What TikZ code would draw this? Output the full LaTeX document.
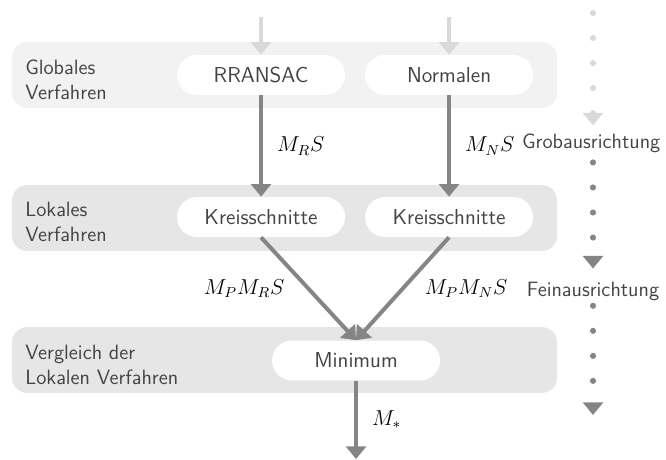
\documentclass[tikz,border=0pt]{standalone}
\usepackage{amsmath}
\usepackage{tikz}
\usetikzlibrary{arrows.meta}
\definecolor{bandHell}{HTML}{F2F2F2}
\definecolor{bandDunkel}{HTML}{E6E6E6}
\definecolor{pfeilHell}{HTML}{D9D9D9}
\definecolor{pfeilDunkel}{HTML}{858585}
\definecolor{textGrau}{HTML}{444444}
\begin{document}
\begin{tikzpicture}[font=\sffamily\fontsize{11.5}{13.9}\selectfont,
  verfahren/.style={fill=white,text=textGrau,font=\sffamily\fontsize{12}{14}\selectfont,rounded corners=0.39cm,minimum width=3.28cm,minimum height=0.78cm,inner sep=0pt},
  ebene/.style={text=textGrau,align=left,anchor=west},
  stufe/.style={text=textGrau,inner sep=0pt},
  formel/.style={text=black},
  pfeil/.style={pfeilDunkel,line width=2.2pt,-{Triangle[width=11pt,length=7pt]}},
  punkte/.style={line width=3.4pt,line cap=round,dash pattern=on 0pt off 13.9pt,-{Triangle[width=11pt,length=7pt]}}]
\useasboundingbox (0,0) rectangle (13,-8.96);
\fill[bandHell,rounded corners=0.3cm] (0.234,-0.82) rectangle (10.873,-2.108);
\fill[bandDunkel,rounded corners=0.3cm] (0.234,-3.611) rectangle (10.873,-4.9);
\fill[bandDunkel,rounded corners=0.3cm] (0.234,-6.383) rectangle (10.873,-7.671);
\node[ebene] (glob) at (0.37,-1.56) {Globales\\Verfahren};
\node[ebene] (lok) at (0.37,-4.34) {Lokales\\Verfahren};
\node[ebene] (vgl) at (0.37,-7.13) {Vergleich der\\Lokalen Verfahren};
\node[verfahren] (rransac) at (5.095,-1.464) {RRANSAC};
\node[verfahren] (normalen) at (8.765,-1.464) {Normalen};
\node[verfahren] (kreisR) at (5.095,-4.236) {Kreisschnitte};
\node[verfahren] (kreisN) at (8.765,-4.236) {Kreisschnitte};
\node[verfahren] (minimum) at (6.95,-7.037) {Minimum};
\coordinate (einR) at (5.095,-0.33);
\coordinate (einN) at (8.765,-0.33);
\coordinate (aus) at (6.95,-8.96);
\draw[pfeil,pfeilHell] (einR) -- (rransac);
\draw[pfeil,pfeilHell] (einN) -- (normalen);
\draw[pfeil] (rransac) -- node[formel,right=4.5pt]{$M_RS$} (kreisR);
\draw[pfeil] (normalen) -- node[formel,right=4.5pt]{$M_NS$} (kreisN);
\draw[pfeil] (kreisR.south) -- node[formel,left=9pt]{$M_PM_RS$} (minimum.north);
\draw[pfeil] (kreisN.south) -- node[formel,right=8pt]{$M_PM_NS$} (minimum.north);
\draw[pfeil] (minimum) -- node[formel,right=4.5pt]{$M_*$} (aus);
\node[stufe] (grob) at (11.54,-2.80) {Grobausrichtung};
\node[stufe] (fein) at (11.575,-5.68) {Feinausrichtung};
\coordinate (start) at (11.575,-0.254);
\coordinate (ende) at (11.575,-8.10);
\draw[punkte,pfeilHell,shorten >=0.16cm] (start) -- (start|-grob.north);
\draw[punkte,pfeilDunkel,shorten <=0.18cm,shorten >=0.25cm] (start|-grob.south) -- (fein.north);
\draw[punkte,pfeilDunkel,shorten <=0.1cm] (fein.south) -- (ende);
\end{tikzpicture}
\end{document}
